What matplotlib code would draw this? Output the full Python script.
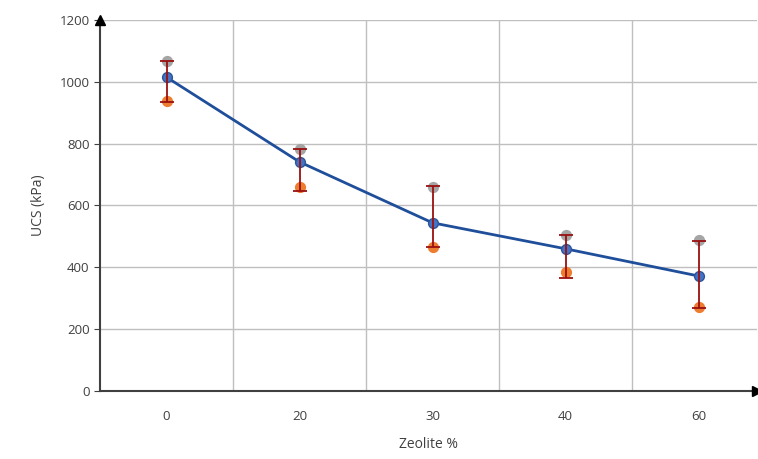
import numpy as np
import matplotlib
matplotlib.use('Agg')
import matplotlib.pyplot as plt

plt.rcParams['font.family'] = ['Open Sans', 'DejaVu Sans']

categories = ['0', '20', '30', '40', '60']
ucs_mean = [1015, 741, 544, 460, 372]
ucs_max = [1068, 783, 660, 505, 489]
ucs_min = [938, 660, 466, 385, 272]
err_low = [935, 647, 466, 366, 269]
err_high = [1068, 783, 663, 505, 485]

x = np.arange(len(categories))

fig = plt.figure(figsize=(7.58, 4.59), dpi=100)
ax = fig.add_axes([100/758, 1 - 391/459, 657/758, 371/459])

ax.set_xlim(-0.5, -0.5 + 657/133)
ax.set_ylim(0, 1200)

# grid
for yv in range(200, 1201, 200):
    ax.axhline(yv, color='#bfbfbf', lw=1, zorder=0)
for xv in x[:-1] + 0.5:
    ax.axvline(xv, color='#bfbfbf', lw=1, zorder=0)

ax.scatter(x, ucs_max, s=50, color='#a5a5a5', zorder=3)
ax.scatter(x, ucs_min, s=50, color='#ed7d31', zorder=3)
ax.plot(x, ucs_mean, color='#1f4e9a', lw=2, zorder=4)
ax.scatter(x, ucs_mean, s=50, color='#4472c4', edgecolor='#2f5597', lw=1, zorder=5)

mid = (np.array(err_low) + np.array(err_high)) / 2
ax.errorbar(x, mid, yerr=[mid - np.array(err_low), np.array(err_high) - mid],
            fmt='none', ecolor='#9b1010', elinewidth=1.3, capsize=5, capthick=1.3, zorder=6)

for s in ['top', 'right']:
    ax.spines[s].set_visible(False)
ax.spines['left'].set_color('#404040')
ax.spines['bottom'].set_color('#404040')
ax.spines['left'].set_linewidth(1.5)
ax.spines['bottom'].set_linewidth(1.5)

# axis arrows
ax.plot(0, 1, marker='^', color='#000000', ms=7, transform=ax.transAxes, clip_on=False, zorder=7)
ax.plot(1, 0, marker='>', color='#000000', ms=7, transform=ax.transAxes, clip_on=False, zorder=7)

ax.set_xticks(x)
ax.set_xticklabels(categories)
ax.tick_params(axis='x', length=0, pad=14, labelsize=9.5, colors='#404040')
ax.set_yticks(range(0, 1201, 200))
ax.tick_params(axis='y', length=4, direction='out', labelsize=9.5, colors='#404040')

ax.set_xlabel('Zeolite %', fontsize=10, color='#404040', labelpad=10)
ax.set_ylabel('UCS (kPa)', fontsize=10, color='#404040', labelpad=10)

fig.savefig('out.png', dpi=100)
